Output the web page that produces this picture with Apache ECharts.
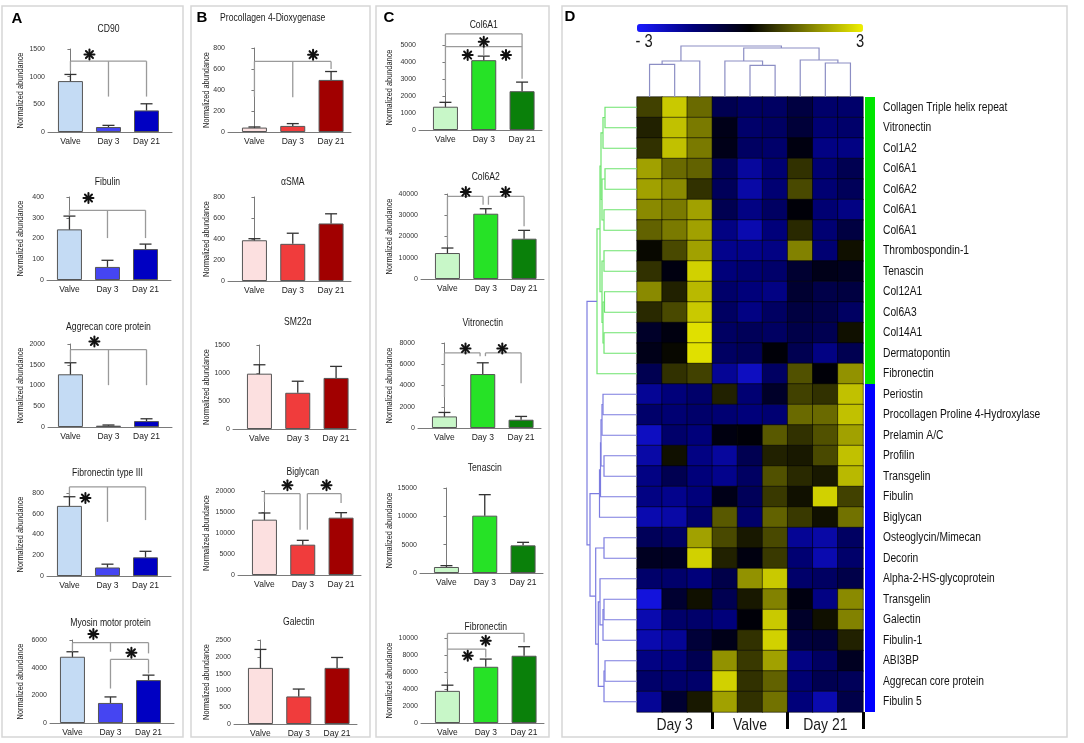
<!DOCTYPE html>
<html>
<head>
<meta charset="utf-8">
<script src="https://cdn.jsdelivr.net/npm/echarts@6/dist/echarts.min.js"></script>
<style>
  html, body { margin: 0; padding: 0; background: #fff; }
  #chart { width: 1084px; height: 743px; }
</style>
</head>
<body>
<div id="chart"></div>
<script>
const FONT = '"Liberation Sans", Arial, sans-serif'
const NARROW = 0.82 // the original uses a condensed face

const groups = ['Valve', 'Day 3', 'Day 21']

// panel A
const titlesA = ['CD90', 'Fibulin', 'Aggrecan core protein', 'Fibronectin type III', 'Myosin motor protein']
const meanA = [[920, 90, 390], [244, 63, 149], [1270, 32, 143], [676, 82, 180], [4790, 1450, 3100]]
const semA = [[120, 30, 120], [64, 32, 24], [278, 16, 55], [88, 32, 58], [360, 435, 360]]
const yMaxA = [1500, 400, 2000, 800, 6000]
const yStepA = [500, 100, 500, 200, 2000]
// [level, from, to, [[x, drop to], ...]]
const bracketsA = [
  [[1280, 0, 2, [[0, 1100], [1, 640], [2, 640]]]],
  [[336, 0, 2, [[0, 310], [1, 202], [2, 202]]]],
  [[1865, 0, 2, [[0, 1560], [1, 1008], [2, 1008]]]],
  [[859, 0, 2, [[0, 770], [1, 522], [2, 539]]]],
  [[5806, 0, 2, [[0, 5160], [1, 5150], [2, 5032]]], [4597, 1, 2, [[1, 2492], [2, 3580]]]]
]
const starsA = [[[0.5, 1400]], [[0.5, 395]], [[0.63, 2063]], [[0.42, 751]], [[0.55, 6435], [1.55, 5080]]]

// panel B
const titlesB = ['Procollagen 4-Dioxygenase', 'αSMA', 'SM22α', 'Biglycan', 'Galectin']
const meanB = [[42, 58, 496], [388, 354, 548], [988, 647, 912], [13175, 7222, 13651], [1670, 820, 1670]]
const semB = [[6, 22, 80], [15, 101, 92], [159, 206, 206], [1587, 1032, 1190], [550, 220, 310]]
const yMaxB = [800, 800, 1500, 20000, 2500]
const yStepB = [200, 200, 500, 5000, 500]
const bracketsB = [
  [[672, 0, 2, [[0, 336], [1, 330], [2, 600]]]],
  [],
  [],
  [[19365, 0, 0.93, [[0, 17381], [0.93, 10794]]], [19365, 1.12, 2, [[1.12, 10794], [2, 17143]]]],
  []
]
const starsB = [[[1.53, 736]], [], [], [[0.6, 21349], [1.62, 21349]], []]

// panel C
const titlesC = ['Col6A1', 'Col6A2', 'Vitronectin', 'Tenascin', 'Fibronectin']
const meanC = [[1370, 4107, 2282], [12226, 30721, 18966], [1090, 5078, 779], [1059, 10118, 4882], [3780, 6614, 7913]]
const semC = [[258, 238, 535], [2351, 2351, 3918], [374, 1059, 311], [235, 3706, 530], [669, 906, 1063]]
const yMaxC = [5000, 40000, 8000, 15000, 10000]
const yStepC = [1000, 10000, 2000, 5000, 2000]
const bracketsC = [
  [[5655, 0, 2, [[0, 2222], [2, 3016]]], [4900, 0, 2, [[1, 4405]]]],
  [[38871, 0, 0.93, [[0, 16144], [0.93, 34953]]], [38871, 1.07, 2, [[1.07, 34953], [2, 24765]]]],
  [[7072, 0, 0.93, [[0, 2897], [0.93, 6760]]], [7072, 1.07, 2, [[1.07, 6760], [2, 4206]]]],
  [],
  [[10551, 0, 2, [[0, 5157], [2, 9488]]], [8701, 0, 1, [[1, 7717]]]]
]
const starsC = [[[1, 5198], [0.58, 4405], [1.58, 4405]], [[0.48, 40900], [1.52, 40900]], [[0.55, 7477], [1.51, 7477]], [], [[1, 9685], [0.53, 7913]]]

const coloursA = ['#c4dbf4', '#4545f2', '#0000c2']
const coloursB = ['#fce0e0', '#f03c3c', '#a10000']
const coloursC = ['#c8f7c8', '#26e226', '#0a800a']

// heatmap (D)
const rowNames = ['Collagen Triple helix repeat', 'Vitronectin', 'Col1A2', 'Col6A1', 'Col6A2', 'Col6A1', 'Col6A1',
  'Thrombospondin-1', 'Tenascin', 'Col12A1', 'Col6A3', 'Col14A1', 'Dermatopontin', 'Fibronectin', 'Periostin',
  'Procollagen Proline 4-Hydroxylase', 'Prelamin A/C', 'Profilin', 'Transgelin', 'Fibulin', 'Biglycan',
  'Osteoglycin/Mimecan', 'Decorin', 'Alpha-2-HS-glycoprotein', 'Transgelin', 'Galectin', 'Fibulin-1', 'ABI3BP',
  'Aggrecan core protein', 'Fibulin 5']
const colGroups = ['Day 3', 'Valve', 'Day 21']
const heatVals = [
  [0.8, 2.5, 1.3, -1.0, -1.2, -1.2, -0.8, -1.3, -1.3],
  [0.4, 2.4, 1.5, -0.3, -1.3, -1.2, -0.7, -1.4, -1.3],
  [0.6, 2.4, 1.5, -0.3, -1.2, -1.3, -0.2, -1.6, -1.6],
  [2.0, 1.3, 1.2, -1.1, -1.9, -1.4, 0.6, -1.4, -1.0],
  [2.0, 1.7, 0.6, -1.1, -2.0, -1.4, 0.9, -1.4, -1.1],
  [1.7, 1.5, 2.0, -1.0, -1.6, -1.2, -0.1, -1.4, -1.6],
  [1.2, 1.5, 2.0, -1.6, -2.1, -1.5, 0.5, -1.4, -0.8],
  [0.1, 0.9, 2.0, -1.7, -1.7, -1.6, 1.6, -1.4, 0.2],
  [0.6, -0.2, 2.6, -1.5, -1.4, -1.3, -0.6, -0.3, -0.4],
  [1.7, 0.4, 2.3, -1.3, -1.5, -1.6, -0.6, -0.9, -0.8],
  [0.5, 0.9, 2.5, -1.2, -1.6, -1.2, -0.8, -0.9, -1.2],
  [-0.5, -0.2, 2.8, -1.2, -1.1, -1.2, -0.9, -1.0, 0.2],
  [-0.3, 0.1, 2.8, -1.2, -1.1, -0.1, -1.0, -1.6, -1.0],
  [-1.0, 0.6, 0.8, -1.8, -2.3, -1.2, 1.0, -0.1, 1.8],
  [-1.8, -1.5, -1.3, 0.4, -1.4, -0.5, 0.8, 0.6, 2.4],
  [-1.3, -1.4, -1.3, -1.4, -1.5, -1.4, 1.3, 1.3, 2.4],
  [-2.3, -1.3, -1.5, -0.2, -0.1, 1.1, 0.6, 1.0, 2.0],
  [-2.0, 0.2, -1.6, -1.9, -1.0, 0.4, 0.3, 0.9, 2.4],
  [-1.6, -1.0, -1.5, -1.7, -1.2, 1.0, 0.5, 0.3, 2.3],
  [-1.6, -1.7, -1.5, -0.3, -1.1, 0.7, 0.2, 2.6, 0.8],
  [-2.1, -2.0, -1.3, 1.1, -1.3, 1.2, 0.7, 0.2, 1.4],
  [-1.1, -1.2, 2.0, 0.9, 0.3, 0.9, -1.8, -2.0, -1.2],
  [-0.4, -0.4, 2.6, 0.4, -0.2, 0.7, -1.4, -2.1, -1.3],
  [-1.3, -1.3, -1.5, -0.9, 1.8, 2.5, -1.3, -1.2, -0.9],
  [-2.6, -0.6, 0.2, -1.0, 0.3, 1.6, -0.2, -1.6, 1.7],
  [-2.1, -1.3, -1.3, -1.5, -0.1, 2.5, -0.5, 0.2, 1.6],
  [-2.1, -1.8, -0.7, -0.3, 0.6, 2.6, -0.8, -0.7, 0.4],
  [-1.6, -1.5, -1.0, 1.8, 0.7, 2.0, -1.6, -1.2, -0.4],
  [-1.3, -1.3, -1.3, 2.6, 0.6, 1.2, -1.4, -1.0, -1.1],
  [-1.8, -0.6, 0.3, 2.0, 0.6, 1.4, -1.5, -2.1, -0.9]
]
// linkage: [a, b, height], nodes n.. are earlier merges
const colMerges = [[0, 1, 32.7], [9, 2, 36], [4, 5, 31.7], [3, 11, 36], [7, 8, 34], [6, 13, 37], [12, 14, 49], [10, 15, 51]]
const rowMerges = [
  [0, 1, 32], [30, 2, 34], [3, 4, 32], [5, 6, 33], [32, 33, 35], [31, 34, 36], [7, 8, 33], [9, 10, 32.5],
  [11, 12, 33], [37, 38, 34], [36, 39, 35], [35, 40, 37], [41, 13, 40],
  [14, 15, 34], [43, 16, 35], [17, 18, 33], [44, 45, 36], [46, 19, 36.5], [47, 20, 37.5], [21, 22, 33],
  [24, 25, 33], [50, 26, 34], [23, 51, 37], [27, 28, 32], [53, 29, 33], [52, 54, 38.7], [49, 55, 41.3],
  [48, 56, 47], [42, 57, 50]
]
const greenMerges = 13
const clusterRows = [[0, 13], [14, 29]]
const clusterColours = ['#00e600', '#0000ff']

// layout
const panels = [
  { titles: titlesA, means: meanA, sems: semA, yMax: yMaxA, yStep: yStepA, brackets: bracketsA, stars: starsA, colours: coloursA,
    axisX: [48, 47, 48, 47, 50], tops: [49, 197, 344, 493, 640], height: 83, titleY: [29, 182, 327, 473, 623], titleDx: [0, 0, 0, 0, 0],
    nameX: 21, xMin: -0.59, xMax: 2.67, width: 124 },
  { titles: titlesB, means: meanB, sems: semB, yMax: yMaxB, yStep: yStepB, brackets: bracketsB, stars: starsB, colours: coloursB,
    axisX: [228, 228, 233, 238, 234], tops: [48, 197, 345, 491, 640], height: 84, titleY: [18, 182, 322, 472, 622], titleDx: [-20, 0, 0, 0, 0],
    nameX: 207, xMin: -0.69, xMax: 2.52, width: 123 },
  { titles: titlesC, means: meanC, sems: semC, yMax: yMaxC, yStep: yStepC, brackets: bracketsC, stars: starsC, colours: coloursC,
    axisX: [419, 421, 418, 420, 421], tops: [45, 194, 343, 488, 638], height: 85, titleY: [25, 177, 323, 468, 627], titleDx: [0, 0, 0, 0, 0],
    nameX: 390, xMin: -0.69, xMax: 2.52, width: 123 }
]

const AXIS = '#7a7a7a'
const BRACKET = '#9a9a9a'

function line(x1, y1, x2, y2, stroke, w) {
  return { type: 'line', shape: { x1, y1, x2, y2 }, style: { stroke, lineWidth: w } }
}

function narrowText(text, x, y, size, extra) {
  return Object.assign({
    type: 'text', x: x, y: y, scaleX: NARROW,
    style: { text: text, font: size + 'px ' + FONT, fill: '#1a1a1a', textAlign: 'center', textVerticalAlign: 'middle', align: 'center', verticalAlign: 'middle' }
  }, extra || {})
}

function renderErr(params, api) {
  const p0 = api.coord([api.value(0), api.value(1)])
  const p1 = api.coord([api.value(0), api.value(2)])
  return {
    type: 'group',
    children: [line(p0[0], p0[1], p1[0], p1[1], '#333', 1.3), line(p1[0] - 6, p1[1], p1[0] + 6, p1[1], '#333', 1.3)]
  }
}

function bracketRender(list) {
  return function (params, api) {
    const b = list[params.dataIndex]
    const a = api.coord([b[1], b[0]])
    const c = api.coord([b[2], b[0]])
    const kids = [line(a[0], a[1], c[0], c[1], BRACKET, 1.3)]
    b[3].forEach(function (d) {
      const t = api.coord([d[0], b[0]])
      const e = api.coord([d[0], d[1]])
      kids.push(line(t[0], t[1], e[0], e[1], BRACKET, 1.3))
    })
    return { type: 'group', children: kids }
  }
}

function renderStar(params, api) {
  const p = api.coord([api.value(0), api.value(1)])
  const r = 5
  const kids = []
  for (let k = 0; k < 4; k++) {
    const ang = (Math.PI / 4) * k
    const dx = Math.sin(ang) * r, dy = Math.cos(ang) * r
    kids.push({ type: 'line', shape: { x1: p[0] - dx, y1: p[1] - dy, x2: p[0] + dx, y2: p[1] + dy },
      style: { stroke: '#111', lineWidth: 2, lineCap: 'round' } })
  }
  return { type: 'group', children: kids }
}

// dendrogram: leafPx(i) pixel along leaves, hPx(h) pixel for height, vertical = true for top tree
function dendroRender(merges, n, leafPx, hPx, vertical, colourOf) {
  const pos = [], hgt = []
  for (let i = 0; i < n; i++) { pos.push(leafPx(i)); hgt.push(hPx(0)) }
  const kids = []
  merges.forEach(function (m, k) {
    const a = m[0], b = m[1], h = hPx(m[2])
    const pts = vertical
      ? [[pos[a], hgt[a]], [pos[a], h], [pos[b], h], [pos[b], hgt[b]]]
      : [[hgt[a], pos[a]], [h, pos[a]], [h, pos[b]], [hgt[b], pos[b]]]
    kids.push({ type: 'polyline', shape: { points: pts }, style: { stroke: colourOf(k), lineWidth: 1.2, fill: null } })
    pos.push((pos[a] + pos[b]) / 2)
    hgt.push(h)
  })
  return { type: 'group', children: kids }
}

const grids = [], xAxes = [], yAxes = [], series = [], graphics = []

panels.forEach(function (p) {
  p.titles.forEach(function (title, i) {
    const gi = grids.length
    grids.push({ left: p.axisX[i], top: p.tops[i], width: p.width, height: p.height })
    xAxes.push({
      gridIndex: gi, type: 'value', min: p.xMin, max: p.xMax,
      splitLine: { show: false },
      axisLine: { show: true, onZero: false, lineStyle: { color: AXIS, width: 1 } },
      axisTick: { show: false },
      axisLabel: { customValues: [0, 1, 2], formatter: function (v) { return groups[Math.round(v)] },
        fontSize: 8.5, fontFamily: FONT, color: '#222', margin: 5 }
    })
    yAxes.push({
      gridIndex: gi, type: 'value', min: 0, max: p.yMax[i], interval: p.yStep[i],
      splitLine: { show: false },
      axisLine: { show: true, lineStyle: { color: AXIS, width: 1 } },
      axisTick: { show: true, length: 3, lineStyle: { color: AXIS } },
      axisLabel: { fontSize: 7, fontFamily: FONT, color: '#333', margin: 3, formatter: function (v) { return String(v) } }
    })
    series.push({
      type: 'bar', xAxisIndex: gi, yAxisIndex: gi, barWidth: 25, silent: true,
      itemStyle: { borderColor: '#555', borderWidth: 1 },
      data: p.means[i].map(function (v, k) { return { value: [k, v], itemStyle: { color: p.colours[k] } } })
    })
    series.push({
      type: 'custom', xAxisIndex: gi, yAxisIndex: gi, silent: true, z: 3, renderItem: renderErr,
      data: p.means[i].map(function (v, k) { return [k, v, v + p.sems[i][k]] })
    })
    if (p.brackets[i].length) {
      series.push({
        type: 'custom', xAxisIndex: gi, yAxisIndex: gi, silent: true, z: 4, renderItem: bracketRender(p.brackets[i]),
        data: p.brackets[i].map(function (b) { return [b[1], b[0]] })
      })
    }
    if (p.stars[i].length) {
      series.push({
        type: 'custom', xAxisIndex: gi, yAxisIndex: gi, silent: true, z: 5, renderItem: renderStar,
        data: p.stars[i]
      })
    }
    const tx = p.axisX[i] + (1 - p.xMin) / (p.xMax - p.xMin) * p.width + p.titleDx[i]
    graphics.push(narrowText(title, tx, p.titleY[i], 10.5))
    graphics.push(narrowText('Normalized abundance', p.nameX, p.tops[i] + p.height / 2, 9, { rotation: Math.PI / 2 }))
  })
})

// heatmap
const hm = grids.length
grids.push({ left: 637, top: 97, width: 226, height: 615 })
xAxes.push({
  gridIndex: hm, type: 'category', data: heatVals[0].map(function (_, i) { return String(i) }),
  axisLine: { show: false },
  axisTick: { show: true, interval: function (i) { return i === 3 || i === 6 }, length: 17, lineStyle: { color: '#000', width: 3 } },
  axisLabel: { show: false },
  splitLine: { show: false }
})
yAxes.push({
  gridIndex: hm, type: 'category', inverse: true,
  data: rowNames.map(function (_, i) { return String(i) }),
  axisLine: { show: false }, axisTick: { show: false }, axisLabel: { show: false }
})
const hmSeries = series.length
series.push({
  type: 'heatmap', xAxisIndex: hm, yAxisIndex: hm, silent: true,
  itemStyle: { borderColor: 'rgba(0,0,0,0.55)', borderWidth: 1 },
  data: heatVals.flatMap(function (row, r) { return row.map(function (v, c) { return [c, r, v] }) })
})
// cluster bars on the right
series.push({
  type: 'custom', xAxisIndex: hm, yAxisIndex: hm, silent: true,
  data: clusterRows.map(function (c, k) { return [8, c[0], c[1], k] }),
  renderItem: function (params, api) {
    const s = api.size([1, 1])
    const a = api.coord([8, api.value(1)])
    const b = api.coord([8, api.value(2)])
    return { type: 'rect', shape: { x: a[0] + s[0] / 2 + 2, y: a[1] - s[1] / 2, width: 10, height: b[1] - a[1] + s[1] },
      style: { fill: clusterColours[api.value(3)] } }
  }
})
// row labels
series.push({
  type: 'custom', xAxisIndex: hm, yAxisIndex: hm, silent: true,
  data: rowNames.map(function (_, r) { return [8, r] }),
  renderItem: function (params, api) {
    const s = api.size([1, 1])
    const p = api.coord([8, api.value(1)])
    return narrowText(rowNames[params.dataIndex], p[0] + s[0] / 2 + 20, p[1], 12.5,
      { style: { text: rowNames[params.dataIndex], font: '12.5px ' + FONT, fill: '#111', textAlign: 'left', textVerticalAlign: 'middle', align: 'left', verticalAlign: 'middle' } })
  }
})
// group labels under the columns
series.push({
  type: 'custom', xAxisIndex: hm, yAxisIndex: hm, silent: true,
  data: colGroups.map(function (_, g) { return [g * 3 + 1, 29] }),
  renderItem: function (params, api) {
    const s = api.size([1, 1])
    const p = api.coord([api.value(0), api.value(1)])
    return narrowText(colGroups[params.dataIndex], p[0], p[1] + s[1] / 2 + 13, 17, null)
  }
})

// column dendrogram
const td = grids.length
grids.push({ left: 637, top: 40, width: 226, height: 57 })
xAxes.push({ gridIndex: td, type: 'category', show: false, data: heatVals[0].map(function (_, i) { return String(i) }) })
yAxes.push({ gridIndex: td, type: 'value', show: false, min: 0, max: 57 })
series.push({
  type: 'custom', xAxisIndex: td, yAxisIndex: td, silent: true, data: [[0, 0]],
  renderItem: function (params, api) {
    return dendroRender(colMerges, 9,
      function (i) { return api.coord([i, 0])[0] },
      function (h) { return api.coord([0, h])[1] },
      true, function () { return '#8c8ec4' })
  }
})

// row dendrogram
const ld = grids.length
grids.push({ left: 583, top: 97, width: 54, height: 615 })
xAxes.push({ gridIndex: ld, type: 'value', show: false, min: 0, max: 54, inverse: true })
yAxes.push({ gridIndex: ld, type: 'category', show: false, inverse: true, data: rowNames.map(function (_, i) { return String(i) }) })
series.push({
  type: 'custom', xAxisIndex: ld, yAxisIndex: ld, silent: true, data: [[0, 0]],
  renderItem: function (params, api) {
    return dendroRender(rowMerges, 30,
      function (i) { return api.coord([0, i])[1] },
      function (h) { return api.coord([h, 0])[0] },
      false, function (k) { return k < greenMerges ? '#6ee46e' : '#7c7ce0' })
  }
})

// panel frames and letters
;[[2, 6, 181, 731], [191, 6, 179, 731], [376, 6, 173, 731], [562, 6, 505, 731]].forEach(function (r) {
  graphics.push({ type: 'rect', shape: { x: r[0], y: r[1], width: r[2], height: r[3] }, style: { fill: null, stroke: '#d6d6d6', lineWidth: 1.5 }, z: -1 })
})
;[['A', 17, 19], ['B', 202, 18], ['C', 389, 18], ['D', 570, 17]].forEach(function (t) {
  graphics.push({ type: 'text', x: t[1], y: t[2],
    style: { text: t[0], font: 'bold 15px ' + FONT, fill: '#000', textAlign: 'center', textVerticalAlign: 'middle', align: 'center', verticalAlign: 'middle' } })
})
graphics.push(narrowText('- 3', 644, 42, 18))
graphics.push(narrowText('3', 860, 42, 18))

const chart = echarts.init(document.getElementById('chart'))
chart.setOption({
  backgroundColor: '#fff',
  animation: false,
  grid: grids,
  xAxis: xAxes,
  yAxis: yAxes,
  visualMap: {
    type: 'continuous', seriesIndex: hmSeries, min: -3, max: 3, orient: 'horizontal',
    left: 637, top: 24, itemWidth: 8, itemHeight: 226, padding: 0, calculable: false, text: null,
    inRange: { color: ['#1a1aff', '#00007a', '#000000', '#7a7a00', '#f0f000'] }
  },
  graphic: graphics,
  series: series
})
</script>
</body>
</html>
